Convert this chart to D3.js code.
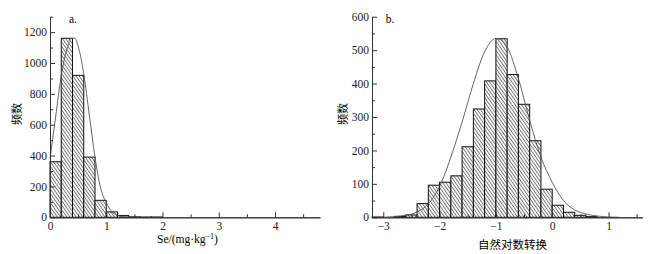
<!DOCTYPE html>
<html>
<head>
<meta charset="utf-8">
<script src="https://cdn.jsdelivr.net/npm/d3@7.9.0/dist/d3.min.js"></script>
<style>
  body { margin: 0; background: #fff; }
  svg { display: block; }
  .domain, .tick line { stroke: #333; }
</style>
</head>
<body>
<svg id="chart" width="650" height="254"></svg>
<script>
// panel a: Se content histogram
const seBins = [0, 0.2, 0.4, 0.6, 0.8, 1.0, 1.2, 1.4, 1.6, 1.8];
const seCounts = [360, 1160, 920, 390, 110, 35, 12, 3, 2, 2];
const seCurveX = [0, 0.1, 0.2, 0.3, 0.38, 0.44, 0.5, 0.6, 0.7, 0.8, 0.9, 1.0, 1.1, 1.2, 1.3, 1.4, 1.6];
const seCurveY = [380, 650, 920, 1090, 1160, 1160, 1110, 930, 660, 390, 190, 95, 35, 12, 4, 1, 0];
const seXTicks = [0, 1, 2, 3, 4];

// panel b: natural log transform
const lnBins = [-3.2, -3.0, -2.8, -2.6, -2.4, -2.2, -2.0, -1.8, -1.6, -1.4, -1.2, -1.0, -0.8, -0.6, -0.4, -0.2, 0, 0.2, 0.4, 0.6];
const lnCounts = [1, 0, 3, 7, 41, 96, 105, 124, 211, 324, 408, 534, 427, 338, 229, 84, 36, 15, 6, 2];
const lnCurveX = [-3.0, -2.8, -2.6, -2.4, -2.2, -2.0, -1.8, -1.6, -1.4, -1.2, -1.0, -0.9, -0.8, -0.6, -0.4, -0.2, 0, 0.2, 0.4, 0.6, 0.8, 1.0, 1.2];
const lnCurveY = [0, 2, 6, 16, 40, 92, 180, 285, 400, 495, 535, 530, 510, 415, 290, 180, 105, 50, 22, 10, 4, 1, 0];
const lnXTicks = [-3, -2, -1, 0, 1];

const binWidth = 0.2;
const serif = '"Liberation Serif", "DejaVu Serif", serif';
const svg = d3.select('#chart');

// hatch fill
const defs = svg.append('defs');
defs.append('pattern')
  .attr('id', 'hatch')
  .attr('patternUnits', 'userSpaceOnUse')
  .attr('width', 2.6).attr('height', 6)
  .attr('patternTransform', 'rotate(-35)')
  .call(p => {
    p.append('rect').attr('width', 2.6).attr('height', 6).attr('fill', '#fff');
    p.append('line').attr('x1', 0.5).attr('y1', 0).attr('x2', 0.5).attr('y2', 6)
      .attr('stroke', '#333').attr('stroke-width', 0.7);
  });

function drawPanel(cfg) {
  const x = d3.scaleLinear().domain(cfg.xDomain).range(cfg.xRange);
  const y = d3.scaleLinear().domain(cfg.yDomain).range([217.3, 16.7]);
  const g = svg.append('g');
  const fmt = d3.format('d');

  g.selectAll('rect.bar')
    .data(cfg.bins.map((b, i) => ({ x0: b, v: cfg.counts[i] })))
    .join('rect')
    .attr('class', 'bar')
    .attr('x', d => x(d.x0))
    .attr('width', d => x(d.x0 + binWidth) - x(d.x0))
    .attr('y', d => y(d.v))
    .attr('height', d => y(0) - y(d.v))
    .attr('fill', 'url(#hatch)')
    .attr('stroke', '#111')
    .attr('stroke-width', 1);

  const line = d3.line()
    .x(d => x(d[0]))
    .y(d => y(d[1]))
    .curve(d3.curveMonotoneX);
  g.append('path')
    .attr('d', line(cfg.curveX.map((v, i) => [v, cfg.curveY[i]])))
    .attr('fill', 'none')
    .attr('stroke', '#555')
    .attr('stroke-width', 0.9);

  // x axis, ticks inward
  const minorX = d3.range(Math.ceil(cfg.xDomain[0] * 2) / 2, cfg.xDomain[1] + 0.001, 0.5)
    .filter(v => !cfg.xTicks.includes(v));
  g.append('g')
    .attr('transform', `translate(0,${y(0)})`)
    .call(d3.axisBottom(x).tickValues(minorX).tickFormat('').tickSizeInner(-3).tickSizeOuter(0));
  g.append('g')
    .attr('transform', `translate(0,${y(0)})`)
    .call(d3.axisBottom(x).tickValues(cfg.xTicks).tickFormat(fmt)
      .tickSizeInner(-5).tickSizeOuter(0).tickPadding(5));

  // y axis, ticks inward
  const minorY = d3.range(cfg.yMinor, cfg.yDomain[1] + 1, cfg.yMinor * 2);
  g.append('g')
    .attr('transform', `translate(${cfg.xRange[0]},0)`)
    .call(d3.axisLeft(y).tickValues(minorY).tickFormat('').tickSizeInner(-3).tickSizeOuter(0));
  g.append('g')
    .attr('transform', `translate(${cfg.xRange[0]},0)`)
    .call(d3.axisLeft(y).tickValues(d3.range(0, cfg.yDomain[1] + 1, cfg.yMinor * 2))
      .tickFormat(fmt).tickSizeInner(-5).tickSizeOuter(0).tickPadding(3));

  g.selectAll('.tick text')
    .style('font-family', serif)
    .style('font-size', '11.5px')
    .attr('fill', '#222');

  g.append('text')
    .attr('x', cfg.tagX).attr('y', 23)
    .attr('text-anchor', 'middle')
    .style('font-family', serif)
    .style('font-size', '11.5px')
    .text(cfg.tag);

  g.append('text')
    .attr('transform', `translate(${cfg.yLabelX},114) rotate(-90)`)
    .attr('text-anchor', 'middle')
    .attr('dy', '0.35em')
    .style('font-family', '"Noto Sans CJK SC", sans-serif')
    .style('font-size', '11px')
    .text('频数');

  return g;
}

drawPanel({
  xDomain: [0, 4.8], xRange: [50, 320], yDomain: [0, 1300], yMinor: 100,
  bins: seBins, counts: seCounts, curveX: seCurveX, curveY: seCurveY,
  xTicks: seXTicks, tag: 'a.', tagX: 73, yLabelX: 17
});

drawPanel({
  xDomain: [-3.2, 1.6], xRange: [372, 642.3], yDomain: [0, 600], yMinor: 50,
  bins: lnBins, counts: lnCounts, curveX: lnCurveX, curveY: lnCurveY,
  xTicks: lnXTicks, tag: 'b.', tagX: 390, yLabelX: 343
});

// axis titles
const xa = svg.append('text')
  .attr('x', 187.5).attr('y', 243)
  .attr('text-anchor', 'middle')
  .style('font-family', serif)
  .style('font-size', '11.5px')
  .text('Se/(mg·kg');
xa.append('tspan').attr('dy', -4).style('font-size', '8px').text('−1');
xa.append('tspan').attr('dy', 4).text(')');

svg.append('text')
  .attr('x', 512.5).attr('y', 248.5)
  .attr('text-anchor', 'middle')
  .style('font-family', '"Noto Sans CJK SC", sans-serif')
  .style('font-size', '11.5px')
  .text('自然对数转换');
</script>
</body>
</html>
